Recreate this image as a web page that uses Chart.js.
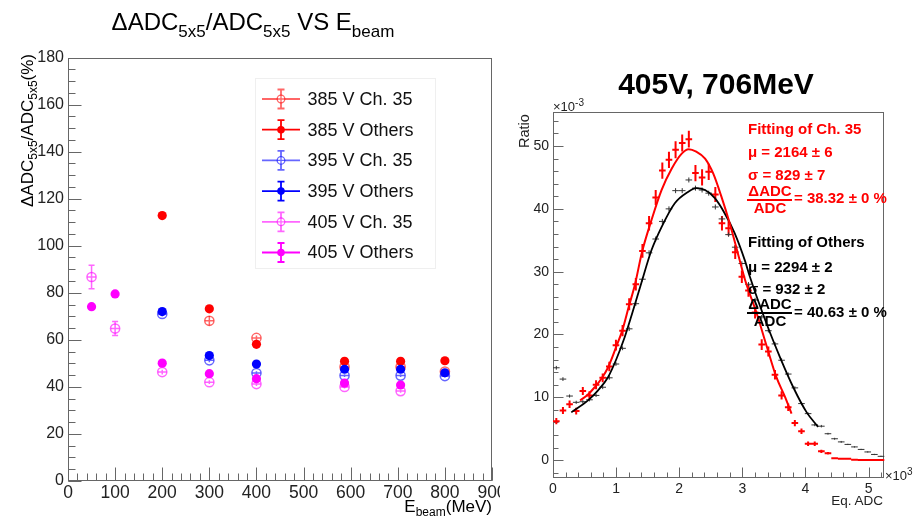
<!DOCTYPE html>
<html lang="en">
<head>
<meta charset="UTF-8">
<title>ADC resolution vs beam energy</title>
<script src="https://cdn.jsdelivr.net/npm/chart.js"></script>
<style>
  html, body { margin: 0; padding: 0; background: #fff; }
  body { width: 913px; height: 517px; position: relative; overflow: hidden;
         font-family: "Liberation Sans", Arial, Helvetica, sans-serif; color: #000; }
  .panel { position: absolute; top: 0; height: 517px; }
  #leftBox { left: 0; width: 500px; }
  #rightBox { left: 500px; width: 413px; }
  .txt { position: absolute; white-space: nowrap; line-height: 1; z-index: 2; }
  .rot { transform-origin: 0 0; transform: rotate(-90deg); }
  .sub { line-height: 0; }
  .fit { font-weight: bold; font-size: 15px; }
  .red { color: #ff0000; }
  .bar { position: absolute; height: 1.6px; z-index: 2; }
</style>
</head>
<body>

<div id="leftBox" class="panel"><canvas id="resChart" width="500" height="517"></canvas></div>
<div id="rightBox" class="panel"><canvas id="fitChart" width="413" height="517"></canvas></div>

<!-- left panel texts -->
<div class="txt" style="left:0; width:506px; text-align:center; top:10px; font-size:24px;">ΔADC<span class="sub" style="font-size:17px; vertical-align:-7px;">5x5</span>/ADC<span class="sub" style="font-size:17px; vertical-align:-7px;">5x5</span> VS E<span class="sub" style="font-size:17px; vertical-align:-7px;">beam</span></div>
<div class="txt rot" style="left:19px; top:207px; font-size:17px;">ΔADC<span class="sub" style="font-size:12px; vertical-align:-4px;">5x5</span>/ADC<span class="sub" style="font-size:12px; vertical-align:-4px;">5x5</span>(%)</div>
<div class="txt" style="right:421px; top:498px; font-size:17px;">E<span class="sub" style="font-size:12px; vertical-align:-4px;">beam</span>(MeV)</div>

<!-- right panel texts -->
<div class="txt" style="left:516px; width:400px; text-align:center; top:69px; font-size:30px; font-weight:bold;">405V, 706MeV</div>
<div class="txt" style="left:553px; top:98px; font-size:13px; color:#222;">×10<span style="font-size:10px; vertical-align:5px;">-3</span></div>
<div class="txt" style="left:885px; top:467px; font-size:13px; color:#222;">×10<span style="font-size:10px; vertical-align:5px;">3</span></div>
<div class="txt rot" style="left:517px; top:148px; font-size:14.5px; color:#222;">Ratio</div>
<div class="txt" style="right:30px; top:494px; font-size:13.5px; color:#222;">Eq. ADC</div>

<div class="txt fit red" style="left:748px; top:121px;">Fitting of Ch. 35</div>
<div class="txt fit red" style="left:748px; top:144px;">μ = 2164 ± 6</div>
<div class="txt fit red" style="left:748px; top:167px;">σ = 829 ± 7</div>
<div class="txt fit red" style="left:747px; width:46px; text-align:center; top:183px;">ΔADC</div>
<div class="bar" style="left:747px; width:45px; top:199px; background:#ff0000;"></div>
<div class="txt fit red" style="left:747px; width:46px; text-align:center; top:200px;">ADC</div>
<div class="txt fit red" style="left:794px; top:190px;">= 38.32 ± 0 %</div>

<div class="txt fit" style="left:748px; top:234px;">Fitting of Others</div>
<div class="txt fit" style="left:748px; top:259px;">μ = 2294 ± 2</div>
<div class="txt fit" style="left:748px; top:281px;">σ = 932 ± 2</div>
<div class="txt fit" style="left:747px; width:46px; text-align:center; top:296px;">ΔADC</div>
<div class="bar" style="left:747px; width:45px; top:312px; background:#000;"></div>
<div class="txt fit" style="left:747px; width:46px; text-align:center; top:313px;">ADC</div>
<div class="txt fit" style="left:794px; top:304px;">= 40.63 ± 0 %</div>

<script>
// ---- left panel: resolution vs beam energy ----
const energies = [50, 100, 200, 300, 400, 587, 706, 800];
const res385Ch35 = [null, null, null, 68.1, 60.8, 48.5, 48.5, 46.5];
const err385Ch35 = [null, null, null, 2.0, 1.0, 0.6, 0.6, 0.6];
const res385Oth  = [null, null, 112.8, 73.2, 58.1, 50.9, 50.9, 51.1];
const err385Oth  = [null, null, 0.5, 0.5, 0.5, 0.4, 0.4, 0.4];
const res395Ch35 = [null, null, 71.0, 51.3, 45.9, 44.8, 44.8, 44.6];
const err395Ch35 = [null, null, 1.0, 0.8, 0.7, 0.6, 0.6, 0.6];
const res395Oth  = [null, null, 72.0, 53.3, 49.7, 47.5, 47.5, 46.0];
const err395Oth  = [null, null, 0.5, 0.4, 0.4, 0.4, 0.4, 0.4];
const res405Ch35 = [86.7, 64.8, 46.3, 42.0, 41.2, 40.0, 38.2, null];
const err405Ch35 = [5.0, 3.0, 1.0, 0.8, 0.8, 0.7, 0.7, null];
const res405Oth  = [74.1, 79.5, 50.1, 45.6, 43.5, 41.6, 40.8, null];
const err405Oth  = [0.5, 0.5, 0.4, 0.4, 0.4, 0.4, 0.4, null];
const xTicksLeft = [0, 100, 200, 300, 400, 500, 600, 700, 800, 900];
const yTicksLeft = [0, 20, 40, 60, 80, 100, 120, 140, 160, 180];

// ---- right panel: Eq. ADC spectrum, 405 V, 706 MeV (x in 10^3, y in 10^-3) ----
const binCenters = [0.0525, 0.1575, 0.2625, 0.3675, 0.4725, 0.5775, 0.6825, 0.7875, 0.8925, 0.9975,
  1.1025, 1.2075, 1.3125, 1.4175, 1.5225, 1.6275, 1.7325, 1.8375, 1.9425, 2.0475,
  2.1525, 2.2575, 2.3625, 2.4675, 2.5725, 2.6775, 2.7825, 2.8875, 2.9925, 3.0975,
  3.2025, 3.3075, 3.4125, 3.5175, 3.6225, 3.7275, 3.8325, 3.9375, 4.0425, 4.1475,
  4.2525, 4.3575, 4.4625, 4.5675, 4.6725, 4.7775, 4.8825, 4.9875, 5.0925, 5.1975];
const ch35Ratio = [6.2, 7.9, 8.9, 7.8, 11.0, 10.3, 12.0, 13.1, 14.9, 18.3,
  20.6, 24.8, 28.0, 33.3, 37.7, 41.8, 46.1, 47.8, 49.4, 50.5,
  51.1, 45.7, 45.0, 45.9, 42.3, 37.7, 36.9, 33.1, 29.2, 27.0,
  23.5, 18.4, 17.3, 13.6, 10.3, 8.4, 5.9, 4.6, 2.6, 2.6,
  1.4, 1.1, 0.3, 0.2, 0.2, 0.05, 0, 0, 0, 0];
const ch35Err = [0.5, 0.55, 0.6, 0.55, 0.65, 0.65, 0.7, 0.7, 0.75, 0.85,
  0.9, 0.95, 1.0, 1.1, 1.15, 1.2, 1.3, 1.3, 1.35, 1.35,
  1.35, 1.3, 1.3, 1.3, 1.2, 1.15, 1.15, 1.1, 1.0, 1.0,
  0.95, 0.85, 0.8, 0.75, 0.65, 0.6, 0.5, 0.45, 0.35, 0.35,
  0.25, 0.2, 0.1, 0.1, 0.1, 0, 0, 0, 0, 0];
const othRatio = [14.7, 12.9, 10.2, 9.2, 9.3, 9.6, 10.3, 11.6, 13.1, 15.3,
  17.8, 20.9, 24.9, 28.8, 33.0, 35.2, 38.0, 40.0, 42.9, 42.9,
  44.6, 43.3, 43.0, 42.5, 40.3, 38.4, 35.9, 33.9, 31.3, 28.0,
  25.5, 22.8, 20.6, 18.5, 15.9, 13.7, 11.5, 9.0, 7.4, 5.6,
  5.4, 4.2, 3.4, 2.9, 2.5, 2.1, 1.7, 1.3, 0.9, 0.6];
const othErr = [0.3, 0.3, 0.25, 0.25, 0.25, 0.25, 0.25, 0.3, 0.3, 0.3,
  0.3, 0.35, 0.35, 0.35, 0.4, 0.4, 0.4, 0.4, 0.4, 0.4,
  0.4, 0.4, 0.4, 0.4, 0.4, 0.4, 0.35, 0.35, 0.35, 0.35,
  0.35, 0.3, 0.3, 0.3, 0.3, 0.25, 0.25, 0.25, 0.2, 0.2,
  0.2, 0.15, 0.15, 0.15, 0.1, 0.1, 0.1, 0.1, 0.1, 0.1];
const fitCh35X = [0.43, 0.55, 0.66, 0.77, 0.87, 1.0, 1.1, 1.2, 1.3, 1.41, 1.56, 1.72, 1.88, 2.04, 2.15,
  2.27, 2.41, 2.54, 2.67, 2.80, 2.93, 3.04, 3.23, 3.39, 3.54, 3.68, 3.78];
const fitCh35Y = [9.5, 10.4, 11.6, 13.0, 14.7, 18.0, 20.7, 24.4, 28.0, 33.1, 38.2, 43.0, 46.4, 48.8, 49.5,
  49.1, 48.0, 45.6, 41.9, 37.7, 32.9, 28.8, 23.3, 18.0, 13.2, 10.0, 7.4];
const fitOthX = [0.29, 0.555, 0.714, 0.872, 1.005, 1.137, 1.253, 1.40, 1.56, 1.72, 1.93, 2.14, 2.27, 2.41,
  2.565, 2.72, 2.88, 3.04, 3.12, 3.385, 3.596, 3.807, 4.02, 4.2];
const fitOthY = [7.6, 9.5, 11.1, 13.2, 16.1, 19.6, 23.3, 28.2, 33.4, 37.1, 40.9, 42.7, 43.3, 43.0,
  41.7, 39.3, 36.1, 31.8, 29.2, 21.7, 16.4, 11.6, 7.6, 5.3];

Chart.defaults.font.family = '"Liberation Sans", Arial, Helvetica, sans-serif';
Chart.defaults.color = '#222';

function energyPoints(vals, errs) {
  const out = [];
  energies.forEach((e, i) => { if (vals[i] != null) out.push({ x: e, y: vals[i], ey: errs[i], ex: 9 }); });
  return out;
}
function binPoints(vals, errs) {
  return binCenters.map((c, i) => ({ x: c, y: vals[i], ey: errs[i], ex: 0.0525 }));
}
function curvePoints(xs, ys) { return xs.map((x, i) => ({ x: x, y: ys[i] })); }

// ROOT-like frame with inward tick marks
const rootFrame = {
  id: 'rootFrame',
  beforeDatasetsDraw(chart, args, o) {
    const { ctx, chartArea: a, scales: { x, y } } = chart;
    const L = Math.round(a.left) + 0.5, R = Math.round(a.right) - 0.5;
    const T = Math.round(a.top) + 0.5, B = Math.round(a.bottom) - 0.5;
    ctx.save();
    ctx.strokeStyle = o.color;
    ctx.lineWidth = 1;
    ctx.strokeRect(L, T, R - L, B - T);
    ctx.beginPath();
    y.ticks.forEach(t => {
      const py = Math.round(y.getPixelForValue(t.value)) + 0.5;
      ctx.moveTo(L, py); ctx.lineTo(L + o.majorLen, py);
    });
    x.ticks.forEach(t => {
      const px = Math.round(x.getPixelForValue(t.value)) + 0.5;
      ctx.moveTo(px, B); ctx.lineTo(px, B - o.majorLen);
    });
    const y0 = Math.ceil(y.min / o.yMinor), y1 = Math.floor(y.max / o.yMinor);
    for (let k = y0; k <= y1; k++) {
      const py = Math.round(y.getPixelForValue(k * o.yMinor)) + 0.5;
      ctx.moveTo(L, py); ctx.lineTo(L + o.minorLen, py);
    }
    const x0 = Math.ceil(x.min / o.xMinor), x1 = Math.floor(x.max / o.xMinor);
    for (let k = x0; k <= x1; k++) {
      const px = Math.round(x.getPixelForValue(k * o.xMinor)) + 0.5;
      ctx.moveTo(px, B); ctx.lineTo(px, B - o.minorLen);
    }
    ctx.stroke();
    ctx.restore();
  }
};

// error bars drawn under each marker set (left panel)
const errorBars = {
  id: 'errorBars',
  beforeDatasetDraw(chart, args) {
    const ds = chart.data.datasets[args.index];
    if (!ds.errColor) return;
    const { ctx, scales: { x, y } } = chart;
    ctx.save();
    ctx.strokeStyle = ds.errColor;
    ctx.lineWidth = 1.5;
    ctx.beginPath();
    ds.data.forEach(p => {
      const px = x.getPixelForValue(p.x), py = y.getPixelForValue(p.y);
      const up = y.getPixelForValue(p.y + p.ey), dn = y.getPixelForValue(p.y - p.ey);
      ctx.moveTo(px, up); ctx.lineTo(px, dn);
      if (ds.open) {
        const l = x.getPixelForValue(p.x - p.ex), r = x.getPixelForValue(p.x + p.ex);
        ctx.moveTo(l, py); ctx.lineTo(r, py);
      }
      if (py - up > 5) {
        ctx.moveTo(px - 3, up); ctx.lineTo(px + 3, up);
        ctx.moveTo(px - 3, dn); ctx.lineTo(px + 3, dn);
      }
    });
    ctx.stroke();
    ctx.restore();
  }
};

// in-plot legend (left panel)
const rootLegend = {
  id: 'rootLegend',
  afterDraw(chart, args, o) {
    const ctx = chart.ctx;
    ctx.save();
    ctx.strokeStyle = '#efefef';
    ctx.lineWidth = 1;
    ctx.strokeRect(255.5, 78.5, 180, 190);
    chart.data.datasets.forEach((ds, i) => {
      const cy = o.top + i * o.gap;
      const mx = 281;
      ctx.strokeStyle = ds.errColor;
      ctx.lineWidth = 1.8;
      ctx.beginPath();
      ctx.moveTo(262, cy); ctx.lineTo(300, cy);
      ctx.moveTo(mx, cy - 9.5); ctx.lineTo(mx, cy + 9.5);
      ctx.moveTo(mx - 3.5, cy - 9.5); ctx.lineTo(mx + 3.5, cy - 9.5);
      ctx.moveTo(mx - 3.5, cy + 9.5); ctx.lineTo(mx + 3.5, cy + 9.5);
      ctx.stroke();
      ctx.beginPath();
      ctx.arc(mx, cy, 3.8, 0, Math.PI * 2);
      if (ds.open) {
        ctx.fillStyle = '#fff'; ctx.fill();
        ctx.lineWidth = 1.3; ctx.strokeStyle = ds.pointBorderColor; ctx.stroke();
        ctx.beginPath();
        ctx.moveTo(mx - 3.8, cy); ctx.lineTo(mx + 3.8, cy);
        ctx.moveTo(mx, cy - 3.8); ctx.lineTo(mx, cy + 3.8);
        ctx.stroke();
      } else {
        ctx.fillStyle = ds.pointBackgroundColor; ctx.fill();
      }
      ctx.fillStyle = '#111';
      ctx.font = '18px "Liberation Sans", Arial, sans-serif';
      ctx.textBaseline = 'middle';
      ctx.fillText(ds.label, 307.5, cy + 1);
    });
    ctx.restore();
  }
};

// histogram points with bin-width and error crosses (right panel)
const histCrosses = {
  id: 'histCrosses',
  beforeDatasetsDraw(chart) {
    const { ctx, scales: { x, y } } = chart;
    chart.data.datasets.forEach(ds => {
      if (!ds.cross) return;
      ctx.save();
      ctx.strokeStyle = ds.cross.color;
      ctx.lineWidth = ds.cross.width;
      ctx.beginPath();
      ds.data.forEach(p => {
        const py = y.getPixelForValue(p.y);
        ctx.moveTo(x.getPixelForValue(p.x - p.ex), py);
        ctx.lineTo(x.getPixelForValue(p.x + p.ex), py);
        if (p.ey > 0) {
          const px = x.getPixelForValue(p.x);
          ctx.moveTo(px, y.getPixelForValue(p.y + p.ey));
          ctx.lineTo(px, y.getPixelForValue(p.y - p.ey));
        }
      });
      ctx.stroke();
      ctx.restore();
    });
  }
};

function markerSet(label, vals, errs, rgb, open, order) {
  const solid = 'rgb(' + rgb + ')';
  const soft = 'rgba(' + rgb + ',0.6)';
  return {
    label: label,
    data: energyPoints(vals, errs),
    open: open,
    order: order,
    errColor: open ? soft : solid,
    pointRadius: 4.6,
    pointBorderWidth: open ? 1.5 : 0,
    pointBackgroundColor: open ? 'rgba(255,255,255,0)' : solid,
    pointBorderColor: open ? soft : solid
  };
}

new Chart(document.getElementById('resChart'), {
  type: 'scatter',
  data: {
    datasets: [
      markerSet('385 V Ch. 35', res385Ch35, err385Ch35, '255,0,0', true, 5),
      markerSet('385 V Others', res385Oth, err385Oth, '255,0,0', false, 4),
      markerSet('395 V Ch. 35', res395Ch35, err395Ch35, '0,0,255', true, 3),
      markerSet('395 V Others', res395Oth, err395Oth, '0,0,255', false, 2),
      markerSet('405 V Ch. 35', res405Ch35, err405Ch35, '255,0,255', true, 1),
      markerSet('405 V Others', res405Oth, err405Oth, '255,0,255', false, 0)
    ]
  },
  options: {
    responsive: false,
    animation: false,
    events: [],
    layout: { padding: { top: 57.5, right: 8, left: 0, bottom: 0 } },
    plugins: {
      legend: { display: false },
      tooltip: { enabled: false },
      rootFrame: { color: '#666', majorLen: 13, minorLen: 7, xMinor: 20, yMinor: 5 },
      rootLegend: { top: 99, gap: 30.7 }
    },
    scales: {
      x: {
        type: 'linear', min: 0, max: 900,
        afterBuildTicks: s => { s.ticks = xTicksLeft.map(v => ({ value: v })); },
        ticks: { font: { size: 17.5 }, padding: 2, maxRotation: 0, autoSkip: false },
        grid: { display: false, drawTicks: false }, border: { display: false },
        afterFit: s => { s.height = 36; s.paddingLeft = 0; s.paddingRight = 0; }
      },
      y: {
        min: 0, max: 180,
        afterBuildTicks: s => { s.ticks = yTicksLeft.map(v => ({ value: v })); },
        ticks: { font: { size: 16 }, padding: 4 },
        grid: { display: false, drawTicks: false }, border: { display: false },
        afterFit: s => { s.width = 68; s.paddingTop = 0; s.paddingBottom = 0; }
      }
    }
  },
  plugins: [rootFrame, errorBars, rootLegend]
});

new Chart(document.getElementById('fitChart'), {
  type: 'scatter',
  data: {
    datasets: [
      { label: 'Fit Ch. 35', data: curvePoints(fitCh35X, fitCh35Y), showLine: true, pointRadius: 0,
        borderColor: '#ff0000', borderWidth: 2, cubicInterpolationMode: 'monotone', order: 0 },
      { label: 'Fit Others', data: curvePoints(fitOthX, fitOthY), showLine: true, pointRadius: 0,
        borderColor: '#000', borderWidth: 1.8, cubicInterpolationMode: 'monotone', order: 1 },
      { label: 'Ch. 35', data: binPoints(ch35Ratio, ch35Err), pointRadius: 0,
        cross: { color: '#ff0000', width: 2 }, order: 2 },
      { label: 'Others', data: binPoints(othRatio, othErr), pointRadius: 0,
        cross: { color: '#333', width: 1 }, order: 3 }
    ]
  },
  options: {
    responsive: false,
    animation: false,
    events: [],
    layout: { padding: { top: 111.5, right: 28.7, left: 0, bottom: 0 } },
    plugins: {
      legend: { display: false },
      tooltip: { enabled: false },
      rootFrame: { color: '#666', majorLen: 10, minorLen: 5, xMinor: 0.2, yMinor: 2 }
    },
    scales: {
      x: {
        type: 'linear', min: 0, max: 5.25,
        ticks: { stepSize: 1, includeBounds: false, font: { size: 14 }, padding: 3, maxRotation: 0 },
        grid: { display: false, drawTicks: false }, border: { display: false },
        afterFit: s => { s.height = 39.3; s.paddingLeft = 0; s.paddingRight = 0; }
      },
      y: {
        min: -2.8, max: 55.5,
        ticks: { stepSize: 10, includeBounds: false, font: { size: 14 }, padding: 4 },
        grid: { display: false, drawTicks: false }, border: { display: false },
        afterFit: s => { s.width = 53; s.paddingTop = 0; s.paddingBottom = 0; }
      }
    }
  },
  plugins: [rootFrame, histCrosses]
});
</script>
</body>
</html>
